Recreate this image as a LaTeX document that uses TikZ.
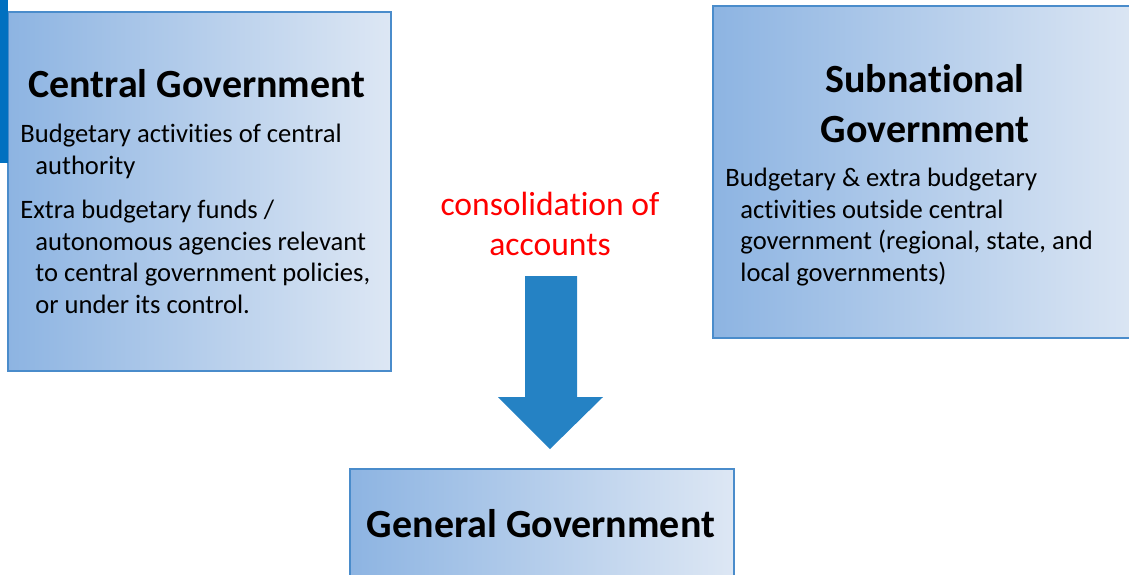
\documentclass[tikz,border=0pt]{standalone}
\usepackage{fontspec}
\setmainfont{Carlito}[Ligatures=NoCommon]
\usetikzlibrary{positioning}
\definecolor{govline}{HTML}{4A8CCB}
\definecolor{govleft}{HTML}{8DB4E2}
\definecolor{govright}{HTML}{DDE7F4}
\definecolor{arrowblue}{HTML}{2582C4}
\definecolor{barblue}{HTML}{0070C0}
\tikzset{
  govbox/.style={
    draw=govline,
    line width=0.75pt,
    left color=govleft,
    right color=govright,
    anchor=north west,
    inner sep=0pt
  },
  govtitle/.style={
    font=\bfseries\fontsize{20}{25}\selectfont,
    align=center,
    inner sep=0pt
  },
  govtext/.style={
    font=\fontsize{13.3}{15.75}\selectfont,
    align=left,
    anchor=north west,
    inner sep=0pt
  },
  redlabel/.style={
    text=red,
    font=\fontsize{16.8}{19.7}\selectfont,
    align=center,
    inner sep=0pt
  }
}

\begin{document}
\begin{tikzpicture}[x=0.5pt, y=-0.5pt]
\useasboundingbox (0,0) rectangle (1129,574);
% the three government boxes
\node[govbox, minimum width=191.5pt, minimum height=179.5pt] (central) at (7,11) {};
\node[govbox, minimum width=216pt, minimum height=166pt] (subnat) at (712,5) {};
\node[govbox, minimum width=192pt, minimum height=70pt] (general) at (349,468) {};
\fill[barblue] (0,0) rectangle (8,163);
% titles
\node[govtitle, anchor=base] (centraltitle) at (197,97) {Central Government};
\node[govtitle, anchor=north] (subnattitle) at (925,64) {Subnational\\Government};
\node[govtitle, anchor=base] (generaltitle) at (541,537) {General Government};
% box contents
\node[govtext] (centraltext) at (20,124) {Budgetary activities of central\\
\hspace*{7.5pt}authority\\[6.5pt]
Extra budgetary funds /\\
\hspace*{7.5pt}autonomous agencies relevant\\
\hspace*{7.5pt}to central government policies,\\
\hspace*{7.5pt}or under its control.};
\node[govtext] (subnattext) at (725,168) {Budgetary \& extra budgetary\\
\hspace*{7.5pt}activities outside central\\
\hspace*{7.5pt}government (regional, state, and\\
\hspace*{7.5pt}local governments)};
% consolidation arrow
\node[redlabel, anchor=north] (consol) at (550,192) {consolidation of\\accounts};
\fill[arrowblue] (525,276) -- (577,276) -- (577,397) -- (603,397) -- (550,449)
  -- (498,397) -- (525,397) -- cycle;
\end{tikzpicture}
\end{document}
